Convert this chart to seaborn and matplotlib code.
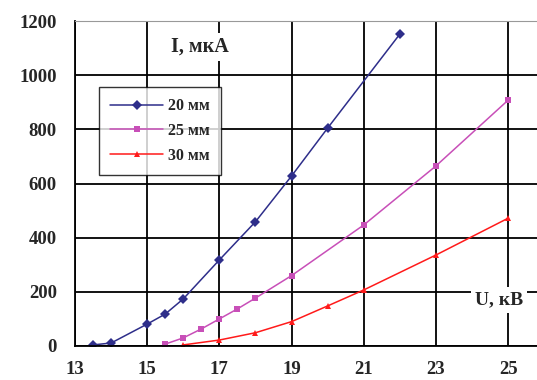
import pandas as pd
import numpy as np
import seaborn as sns
import matplotlib.pyplot as plt

u_20 = [13.5, 14, 15, 15.5, 16, 17, 18, 19, 20, 22]
i_20 = [4, 11, 81, 118, 174, 318, 459, 628, 805, 1152]
u_25 = [15.5, 16, 16.5, 17, 17.5, 18, 19, 21, 23, 25]
i_25 = [7, 30, 63, 100, 137, 177, 260, 447, 665, 908]
u_30 = [16, 17, 18, 19, 20, 21, 23, 25]
i_30 = [4, 22, 49, 90, 148, 207, 336, 472]
labels = ['20 мм', '25 мм', '30 мм']

df = pd.concat([
    pd.DataFrame({'U': u_20, 'I': i_20, 'gap': labels[0]}),
    pd.DataFrame({'U': u_25, 'I': i_25, 'gap': labels[1]}),
    pd.DataFrame({'U': u_30, 'I': i_30, 'gap': labels[2]}),
])

sns.set_style('white')
plt.rcParams['font.family'] = ['Liberation Serif', 'DejaVu Serif']
plt.rcParams['font.weight'] = 'bold'

fig = plt.figure(figsize=(5.37, 3.8), dpi=100)
ax = fig.add_axes([0.1397, 0.0895, 0.8603, 0.855])

pal = {labels[0]: '#2e2e8a', labels[1]: '#c84fb8', labels[2]: '#ff1a1a'}
sns.lineplot(data=df, x='U', y='I', hue='gap', style='gap', palette=pal,
             markers=['D', 's', '^'], dashes=False, markersize=5, linewidth=1.1,
             markeredgewidth=0, ax=ax)

ax.set_xlim(13, 25.8)
ax.set_ylim(0, 1200)
ax.set_xticks(np.arange(13, 26, 2))
ax.set_yticks(np.arange(0, 1201, 200))
ax.grid(True, color='black', linewidth=1.3)
ax.set_axisbelow(True)
for s in ['left', 'bottom']:
    ax.spines[s].set_color('black')
    ax.spines[s].set_linewidth(1.3)
ax.spines['top'].set_color('#999999')
ax.spines['right'].set_visible(False)
ax.tick_params(axis='both', direction='out', length=5, width=1.3, color='black',
               labelsize=13.5)
ax.tick_params(axis='y', pad=8)
ax.tick_params(axis='x', pad=6)
ax.set_xlabel('')
ax.set_ylabel('')
for t in ax.get_xticklabels() + ax.get_yticklabels():
    t.set_fontweight('bold')

ax.text(16.45, 1105, 'I, мкА', fontsize=14.5, fontweight='bold', ha='center', va='center',
        bbox=dict(facecolor='white', edgecolor='none', pad=3))
ax.text(24.75, 170, 'U, кВ', fontsize=14, fontweight='bold', ha='center', va='center',
        bbox=dict(facecolor='white', edgecolor='none', pad=3))

leg = ax.legend(title=None, loc='upper left', bbox_to_anchor=(0.052, 0.797),
                frameon=True, fancybox=False, edgecolor='black', fontsize=11.5,
                handlelength=3.3, handletextpad=0.3, labelspacing=0.55,
                borderpad=0.7, borderaxespad=0)
leg.get_frame().set_linewidth(1.0)
for t in leg.get_texts():
    t.set_fontweight('bold')

fig.savefig('out.png', dpi=100)
